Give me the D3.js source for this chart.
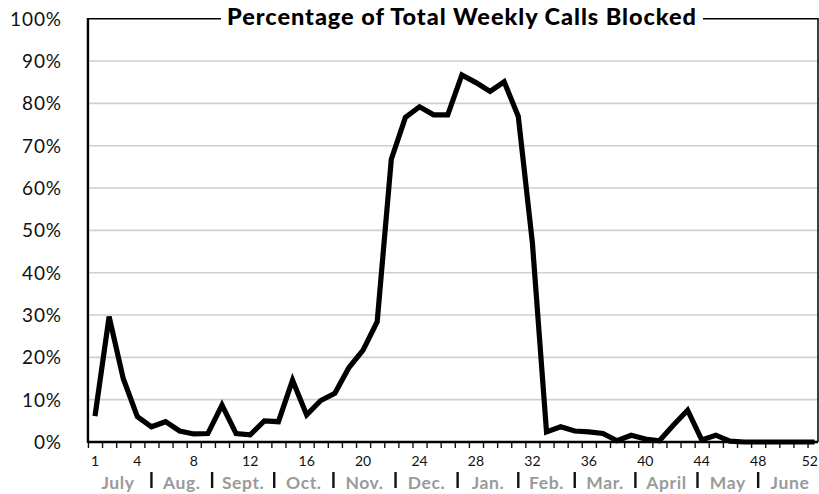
<!DOCTYPE html>
<html><head><meta charset="utf-8">
<script src="https://cdn.jsdelivr.net/npm/d3@7"></script>
<style>body{margin:0;background:#fff}svg{display:block}</style>
</head><body>
<svg id="c" width="819" height="494"></svg>
<script>
const weeks = d3.range(1, 53);
const blocked = [6.1, 29.6, 15.0, 6.0, 3.6, 4.8, 2.6, 1.9, 2.0, 8.7, 2.0, 1.7, 5.0, 4.8, 14.6, 6.4, 9.8, 11.5, 17.6, 21.7,
  28.4, 66.8, 76.7, 79.2, 77.3, 77.3, 86.7, 84.9, 82.8, 85.1, 76.9, 47.0, 2.4, 3.6, 2.6, 2.4, 2.0, 0.3, 1.6, 0.7,
  0.3, 4.0, 7.5, 0.5, 1.6, 0.2, 0, 0, 0, 0, 0, 0];
const weekLabels = [1, 4, 8, 12, 16, 20, 24, 28, 32, 36, 40, 44, 48, 52];
const yTicks = [0, 10, 20, 30, 40, 50, 60, 70, 80, 90, 100];
const months = ["July", "Aug.", "Sept.", "Oct.", "Nov.", "Dec.", "Jan.", "Feb.", "Mar.", "April", "May", "June"];
const monthBounds = [0.5, 5, 9.3, 13.7, 17.9, 22.3, 26.7, 31, 35, 39.3, 43.7, 48, 52.5];
const title = "Percentage of Total Weekly Calls Blocked";

(function () {
const svg = d3.select("#c");
const x = d3.scaleLinear().domain([1, 52]).range([95, 814.6]);
const y = d3.scaleLinear().domain([0, 100]).range([442, 18.7]);
const pl = x(0.5), pr = 818, pt = y(100), pb = y(0);
const font = "Lato, 'Open Sans', sans-serif";

// gridlines
svg.append("g").selectAll("line").data(yTicks.filter(d => d > 0 && d < 100)).join("line")
  .attr("x1", pl).attr("x2", pr).attr("y1", d => y(d)).attr("y2", d => y(d))
  .attr("stroke", "#cfcfcf").attr("stroke-width", 1.6);

// y labels
const yAxis = d3.axisLeft(y).tickValues(yTicks).tickFormat(d => d + "%").tickSize(0).tickPadding(0);
const ya = svg.append("g").attr("transform", `translate(62,0)`).call(yAxis);
ya.select(".domain").remove();
ya.selectAll("text").attr("font-family", font).attr("font-size", 19).attr("letter-spacing", 0.9)
  .attr("fill", "#111").attr("dy", "0.34em");

// x axis: ticks between weeks
const xTickVals = d3.range(0.5, 52.5, 1);
const xa = svg.append("g").attr("transform", `translate(0,${pb})`)
  .call(d3.axisBottom(x).tickValues(xTickVals).tickSize(6).tickFormat(""));
xa.select(".domain").remove();
xa.selectAll("line").attr("stroke", "#111").attr("stroke-width", 1.4);

svg.append("g").selectAll("text").data(weekLabels).join("text")
  .attr("x", d => d === 52 ? 818 : x(d)).attr("y", 466)
  .attr("text-anchor", d => d === 52 ? "end" : "middle")
  .attr("font-family", font).attr("font-size", 14).attr("fill", "#111").text(d => d);

// month labels
const mids = months.map((m, i) => ({m, c: (x(monthBounds[i]) + Math.min(x(monthBounds[i + 1]), pr)) / 2}));
mids[0].c = 118; mids[11].c = 790;
svg.append("g").selectAll("text").data(mids).join("text")
  .attr("x", d => d.c).attr("y", 489).attr("text-anchor", "middle")
  .attr("font-family", font).attr("font-weight", "bold").attr("font-size", 17.5).attr("letter-spacing", 0.6)
  .attr("fill", "#9a9a9a").text(d => d.m);
svg.append("g").selectAll("line").data(monthBounds.slice(1, -1)).join("line")
  .attr("x1", d => x(d)).attr("x2", d => x(d)).attr("y1", 472).attr("y2", 488)
  .attr("stroke", "#111").attr("stroke-width", 2.4);

// frame + title
const t = svg.append("text").attr("x", 462).attr("y", 25).attr("text-anchor", "middle")
  .attr("font-family", font).attr("font-weight", "900").attr("font-size", 23.5).attr("fill", "#000").text(title);
const w0 = t.node().getComputedTextLength();
t.attr("letter-spacing", Math.max(0, (469 - w0) / (title.length - 1)));
const bb = t.node().getBBox();
svg.append("path").attr("fill", "none").attr("stroke", "#000").attr("stroke-width", 1.5)
  .attr("d", `M${bb.x - 6},${pt}H${pl}`);
svg.append("path").attr("fill", "none").attr("stroke", "#000").attr("stroke-width", 1.5)
  .attr("d", `M${bb.x + bb.width + 6},${pt}H${pr}V${pb}`);
svg.append("line").attr("x1", pl).attr("x2", pl).attr("y1", pt - 0.75).attr("y2", pb + 1)
  .attr("stroke", "#000").attr("stroke-width", 2.4);
svg.append("line").attr("x1", pl).attr("x2", pr).attr("y1", pb).attr("y2", pb)
  .attr("stroke", "#000").attr("stroke-width", 2.4);

// data line
svg.append("path").datum(weeks.map((w, i) => [w, blocked[i]]))
  .attr("fill", "none").attr("stroke", "#000").attr("stroke-width", 5.2)
  .attr("stroke-linejoin", "miter").attr("stroke-linecap", "butt")
  .attr("d", d3.line().x(d => x(d[0])).y(d => y(d[1])));
})();
</script>
</body></html>
